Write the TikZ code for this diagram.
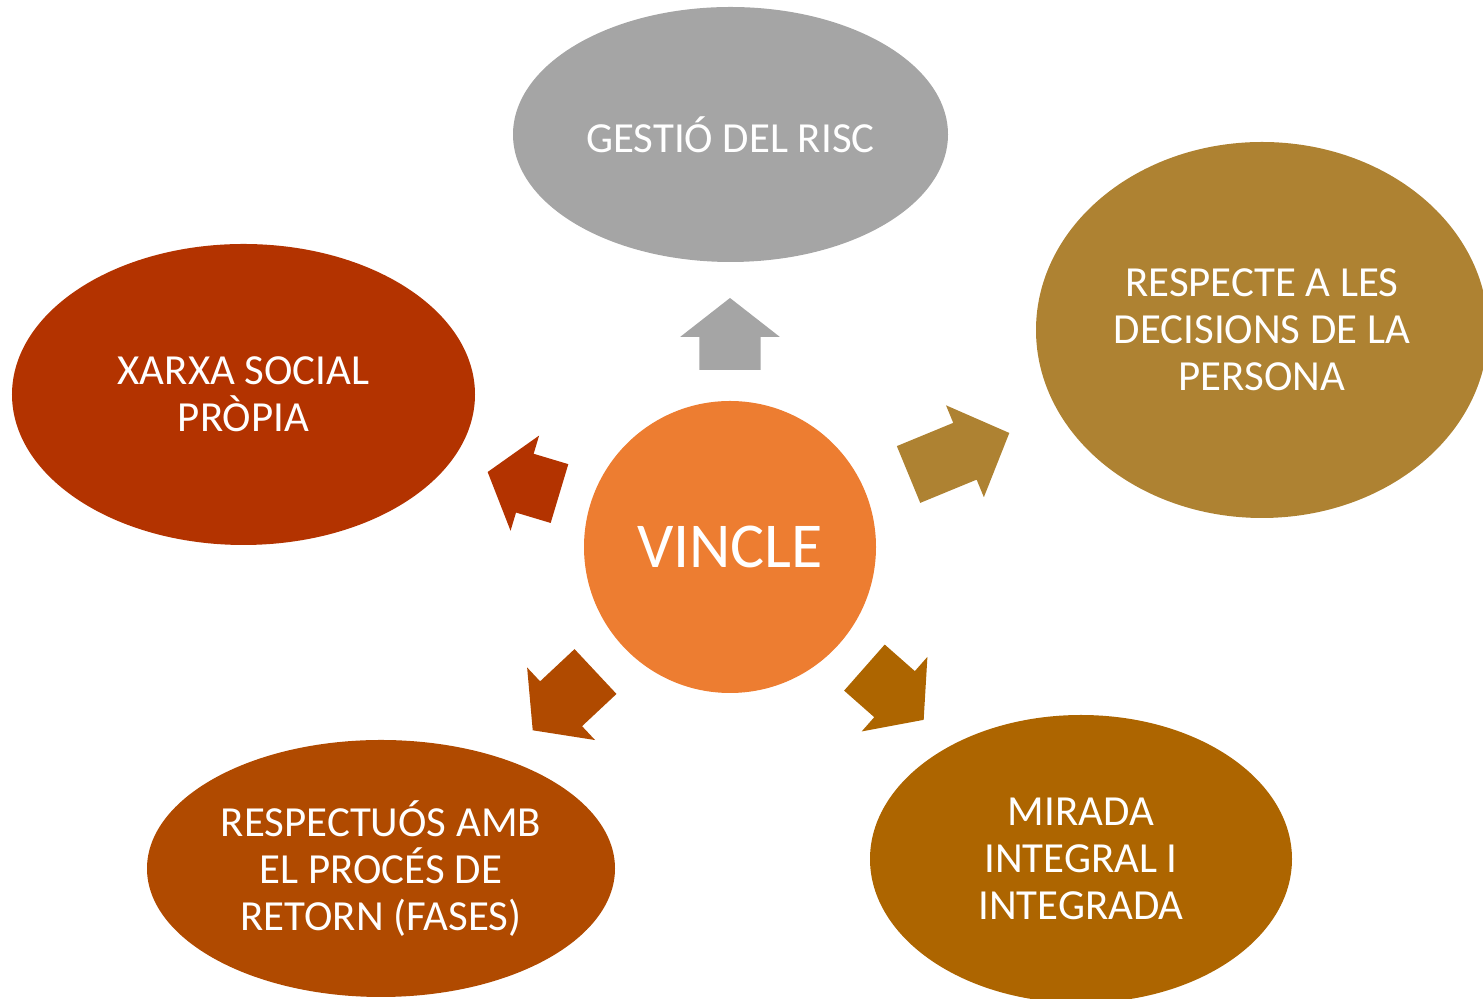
\documentclass[tikz,border=0pt]{standalone}
\usepackage{fontspec}
\setmainfont{Carlito}
\usetikzlibrary{shapes, arrows, calc}

\definecolor{riscgray}{HTML}{A5A5A5}
\definecolor{vincleorange}{HTML}{ED7D31}
\definecolor{decisiongold}{HTML}{AE8232}
\definecolor{xarxared}{HTML}{B33300}
\definecolor{retornrust}{HTML}{B04A00}
\definecolor{miradabrown}{HTML}{AD6500}

\begin{document}
\begin{tikzpicture}[
    topic/.style = {ellipse,
      inner sep = 0pt,
      align = center,
      text = white,
      font = \fontsize{12.2pt}{13.4pt}\selectfont},
    hub/.style = {circle,
      fill = vincleorange,
      text = white,
      minimum size = 2.92cm,
      font = \fontsize{18.2pt}{22pt}\selectfont},
    pointer/.style = {single arrow,
      anchor = tail,
      inner xsep = 0pt,
      inner ysep = 0.3cm,
      outer sep = 0pt,
      minimum width = 0.98cm,
      single arrow head extend = 0.19cm,
      single arrow tip angle = 104}
    ]

    \useasboundingbox (0, 0) rectangle (14.83, 9.99);

    \node at (7.3, 4.52) [hub, name = vincle] {VINCLE};

    \node at (7.305, 8.645) [topic, fill = riscgray, minimum width = 4.35cm, minimum height = 2.55cm, name = risc] {GESTIÓ DEL RISC};
    \node at (12.62, 6.69) [topic, fill = decisiongold, minimum width = 4.52cm, minimum height = 3.76cm, name = decisions] {RESPECTE A LES\\DECISIONS DE LA\\PERSONA};
    \node at (2.435, 6.045) [topic, fill = xarxared, minimum width = 4.63cm, minimum height = 3.01cm, name = xarxa] {XARXA SOCIAL\\PRÒPIA};
    \node at (3.81, 1.305) [topic, fill = retornrust, minimum width = 4.68cm, minimum height = 2.57cm, name = retorn] {RESPECTUÓS AMB\\EL PROCÉS DE\\RETORN (FASES)};
    \node at (10.81, 1.40) [topic, fill = miradabrown, minimum width = 4.22cm, minimum height = 2.88cm, name = mirada] {MIRADA\\INTEGRAL I\\INTEGRADA};

    \node at ($(vincle) + (90:1.77)$) [pointer, fill = riscgray, rotate = 90, minimum height = 0.72cm, name = toRisc] {};
    \node at ($(vincle) + (22.1:1.927)$) [pointer, fill = decisiongold, rotate = 22.4, minimum height = 1.09cm, single arrow tip angle = 92, name = toDecisions] {};
    \node at ($(vincle) + (162.6:1.787)$) [pointer, fill = xarxared, rotate = 163.3, minimum height = 0.75cm, name = toXarxa] {};
    \node at ($(vincle) + (222.8:1.833)$) [pointer, fill = retornrust, rotate = 223.1, minimum height = 0.86cm, name = toRetorn] {};
    \node at ($(vincle) + (-41.9:1.806)$) [pointer, fill = miradabrown, rotate = -41.4, minimum height = 0.79cm, name = toMirada] {};

  \end{tikzpicture}
\end{document}
